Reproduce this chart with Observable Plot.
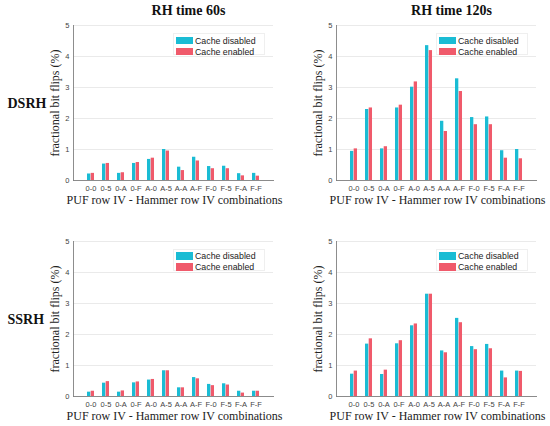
<!DOCTYPE html>
<html>
<head>
<meta charset="utf-8">
<script src="https://cdn.jsdelivr.net/npm/d3@7"></script>
<script src="https://cdn.jsdelivr.net/npm/@observablehq/plot@0.6"></script>
<style>
  html, body { margin: 0; padding: 0; background: #fff; }
  #wrap { position: relative; width: 550px; height: 426px; overflow: hidden; background: #fff; }
  .panel { position: absolute; }
  .legend { position: absolute; width: 92px; height: 22px; background: #fff; border: 1px solid #efefef; box-sizing: border-box; }
  .sw { position: absolute; left: 2px; width: 17px; height: 7.6px; }
  .lt { position: absolute; left: 21px; font: 8.8px "Liberation Sans", Arial, sans-serif; color: #222; line-height: 10px; white-space: nowrap; }
</style>
</head>
<body>
<div id="wrap"></div>
<script>
const categories = ["0-0","0-5","0-A","0-F","A-0","A-5","A-A","A-F","F-0","F-5","F-A","F-F"];
const seriesNames = ["Cache disabled", "Cache enabled"];
const seriesColors = ["#1abcd4", "#f05a6b"];
const yTicks = [0, 1, 2, 3, 4, 5];
const colTitles = ["RH time 60s", "RH time 120s"];
const rowLabels = ["DSRH", "SSRH"];
const xLabel = "PUF row IV - Hammer row IV combinations";
const yLabel = "fractional bit flips (%)";

const dsrh60Disabled  = [0.21, 0.53, 0.23, 0.55, 0.68, 1.00, 0.43, 0.75, 0.45, 0.46, 0.22, 0.23];
const dsrh60Enabled   = [0.23, 0.55, 0.25, 0.58, 0.72, 0.95, 0.32, 0.63, 0.38, 0.38, 0.15, 0.14];
const dsrh120Disabled = [0.94, 2.29, 1.02, 2.34, 3.01, 4.35, 1.91, 3.28, 2.03, 2.05, 0.96, 1.00];
const dsrh120Enabled  = [1.02, 2.34, 1.09, 2.43, 3.18, 4.19, 1.58, 2.87, 1.80, 1.80, 0.72, 0.70];
const ssrh60Disabled  = [0.14, 0.43, 0.14, 0.44, 0.53, 0.83, 0.28, 0.61, 0.39, 0.41, 0.17, 0.17];
const ssrh60Enabled   = [0.17, 0.48, 0.18, 0.47, 0.55, 0.83, 0.28, 0.57, 0.35, 0.37, 0.11, 0.17];
const ssrh120Disabled = [0.72, 1.69, 0.71, 1.70, 2.28, 3.30, 1.47, 2.52, 1.61, 1.68, 0.82, 0.82];
const ssrh120Enabled  = [0.82, 1.86, 0.85, 1.80, 2.34, 3.30, 1.41, 2.38, 1.51, 1.54, 0.60, 0.81];

const panels = [
  {row: 0, col: 0, disabled: dsrh60Disabled, enabled: dsrh60Enabled},
  {row: 0, col: 1, disabled: dsrh120Disabled, enabled: dsrh120Enabled},
  {row: 1, col: 0, disabled: ssrh60Disabled, enabled: ssrh60Enabled},
  {row: 1, col: 1, disabled: ssrh120Disabled, enabled: ssrh120Enabled}
];

const wrap = document.getElementById("wrap");
const W = 275, H = 210, ML = 73, MR = 2, MT = 25, MB = 30;
const bandHalf = (W - ML - MR) / 13 / 2;
const barW = 3.7;

for (const p of panels) {
  const left = p.col * 263;
  const top = p.row * 215.5;
  const dis = categories.map((c, i) => ({cat: c, v: p.disabled[i]}));
  const ena = categories.map((c, i) => ({cat: c, v: p.enabled[i]}));
  const marks = [
    Plot.gridY(yTicks, {stroke: "#e4e4e4", strokeOpacity: 1, strokeWidth: 0.8}),
    Plot.barY(dis, {x: "cat", y: "v", fill: seriesColors[0], insetLeft: bandHalf - barW, insetRight: bandHalf}),
    Plot.barY(ena, {x: "cat", y: "v", fill: seriesColors[1], insetLeft: bandHalf, insetRight: bandHalf - barW}),
    Plot.frame({anchor: "left", stroke: "#808080", strokeWidth: 0.9}),
    Plot.frame({anchor: "bottom", stroke: "#808080", strokeWidth: 0.9}),
    Plot.text([xLabel], {text: d => d, frameAnchor: "bottom", dy: 20, dx: 1, textAnchor: "middle", fontFamily: "'Liberation Serif', serif", fontSize: 12, fill: "#222", lineAnchor: "middle"}),
    Plot.text([yLabel], {text: d => d, frameAnchor: "left", rotate: -90, dx: -18.5, textAnchor: "middle", fontFamily: "'Liberation Serif', serif", fontSize: 12, fill: "#222", lineAnchor: "middle"})
  ];
  if (p.row === 0) {
    marks.push(Plot.text([colTitles[p.col]], {text: d => d, frameAnchor: "top", dx: 15, dy: -15, textAnchor: "middle", fontFamily: "'Liberation Serif', serif", fontWeight: "bold", fontSize: 14, fill: "#111", lineAnchor: "middle", letterSpacing: "0.6px"}));
  }
  if (p.col === 0) {
    marks.push(Plot.text([rowLabels[p.row]], {text: d => d, frameAnchor: "left", dx: -66, dy: 0.5, textAnchor: "start", fontFamily: "'Liberation Serif', serif", fontWeight: "bold", fontSize: 14, fill: "#111", lineAnchor: "middle", letterSpacing: "0.5px"}));
  }
  const chart = Plot.plot({
    width: W, height: H,
    marginLeft: ML, marginRight: MR, marginTop: MT, marginBottom: MB,
    x: {type: "band", domain: categories, paddingInner: 0, paddingOuter: 0.5, label: null, tickSize: 0, tickPadding: 5},
    y: {domain: [0, 5], ticks: yTicks, tickFormat: d => String(d), label: null, tickSize: 0, tickPadding: 4},
    style: {fontFamily: "'Liberation Sans', Arial, sans-serif", fontSize: "7.5px", color: "#444", background: "transparent", overflow: "visible"},
    marks
  });
  chart.classList.add("panel");
  chart.style.left = left + "px";
  chart.style.top = top + "px";
  wrap.appendChild(chart);

  const lg = document.createElement("div");
  lg.className = "legend";
  lg.style.left = (left + 173) + "px";
  lg.style.top = (top + 33) + "px";
  seriesNames.forEach((name, i) => {
    const sw = document.createElement("div");
    sw.className = "sw";
    sw.style.top = (2.7 + i * 11) + "px";
    sw.style.background = seriesColors[i];
    lg.appendChild(sw);
    const t = document.createElement("div");
    t.className = "lt";
    t.style.top = (1.5 + i * 11) + "px";
    t.textContent = name;
    lg.appendChild(t);
  });
  wrap.appendChild(lg);
}
</script>
</body>
</html>
